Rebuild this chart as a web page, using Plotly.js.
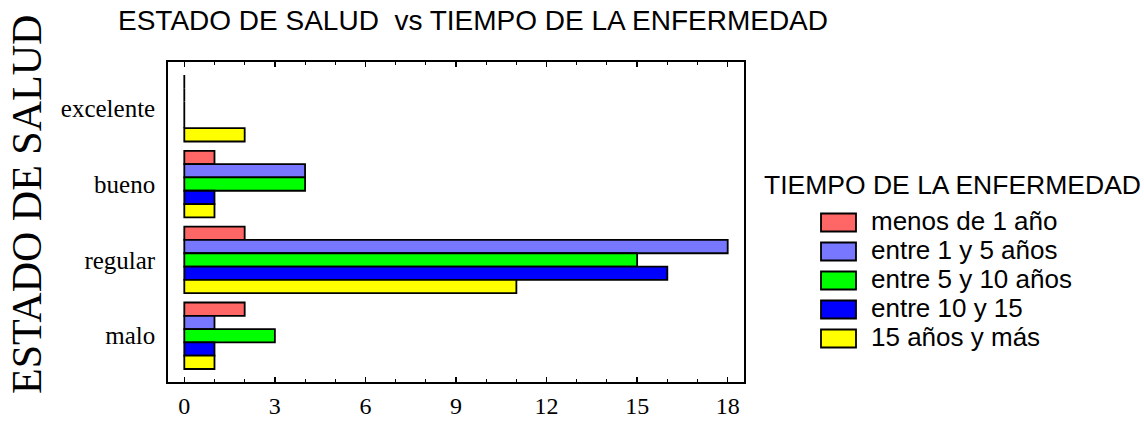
<!DOCTYPE html>
<html><head><meta charset="utf-8">
<script src="https://cdn.plot.ly/plotly-3.0.1.min.js"></script>
<style>html,body{margin:0;padding:0;background:#fff}</style>
</head><body>
<div id="chart" style="width:1144px;height:421px"></div>
<script>
const categories = ['excelente', 'bueno', 'regular', 'malo'];
const seriesNames = ['menos de 1 año', 'entre 1 y 5 años', 'entre 5 y 10 años', 'entre 10 y 15', '15 años y más'];
const menos1 = [0, 1, 2, 2];
const entre1y5 = [0, 4, 18, 1];
const entre5y10 = [0, 4, 15, 3];
const entre10y15 = [0, 1, 16, 1];
const mas15 = [2, 1, 11, 1];
const xTicks = [0, 3, 6, 9, 12, 15, 18];
const colors = ['#FF6666', '#7777FF', '#00FF00', '#0000FF', '#FFFF00'];
const seriesValues = [menos1, entre1y5, entre5y10, entre10y15, mas15];

const traces = seriesValues.map((vals, i) => ({
  type: 'bar',
  orientation: 'h',
  name: '<span style="font-size:26px">' + seriesNames[i] + '</span>',
  y: categories,
  x: vals,
  marker: { color: colors[i], line: { color: '#000', width: 1.8 } },
  hoverinfo: 'x+y'
}));

const layout = {
  width: 1144, height: 421,
  margin: { l: 168, r: 400, t: 62, b: 39 },
  paper_bgcolor: '#fff', plot_bgcolor: '#fff',
  barmode: 'group', bargap: 0.123, bargroupgap: 0,
  font: { family: 'Liberation Sans, Arial, sans-serif', color: '#000' },
  title: {
    text: 'ESTADO DE SALUD\u00A0 vs TIEMPO DE LA ENFERMEDAD',
    x: 118 / 1144, xref: 'container', xanchor: 'left',
    y: 1 - 20 / 421, yref: 'container', yanchor: 'middle',
    font: { family: 'Liberation Sans, Arial, sans-serif', size: 28, color: '#000' }
  },
  xaxis: {
    range: [-0.54, 18.54],
    tickmode: 'array', tickvals: xTicks, ticktext: xTicks.map(String),
    ticks: 'inside', ticklen: 5, tickwidth: 1.5, tickcolor: '#000',
    minor: { tickmode: 'linear', tick0: 0, dtick: 1, ticks: 'inside', ticklen: 3, tickwidth: 1, tickcolor: '#000' },
    showline: true, linecolor: '#000', linewidth: 1.8, mirror: 'ticks',
    showgrid: false, zeroline: false,
    tickfont: { family: 'Liberation Serif, Times New Roman, serif', size: 24, color: '#000' },
    ticklabelstandoff: 1
  },
  yaxis: {
    type: 'category', categoryorder: 'array', categoryarray: categories,
    range: [3.61, -0.61],
    showline: true, linecolor: '#000', linewidth: 1.8, mirror: true,
    ticks: '', showgrid: false, zeroline: false,
    tickfont: { family: 'Liberation Serif, Times New Roman, serif', size: 25, color: '#000' },
    ticklabelstandoff: 6
  },
  legend: {
    x: (806 - 168) / 576, xanchor: 'left',
    y: 1 - (203 - 62) / 320, yanchor: 'top',
    font: { family: 'Liberation Sans, Arial, sans-serif', size: 20, color: '#000' },
    itemwidth: 55, bgcolor: 'rgba(0,0,0,0)', traceorder: 'normal'
  },
  annotations: [{
    text: 'TIEMPO DE LA ENFERMEDAD', showarrow: false,
    xref: 'paper', x: (762 - 168) / 576, xanchor: 'left',
    yref: 'paper', y: 1 - (185 - 62) / 320, yanchor: 'middle',
    font: { family: 'Liberation Sans, Arial, sans-serif', size: 26.5, color: '#000' }
  }, {
    text: 'ESTADO DE SALUD', showarrow: false, textangle: -90,
    xref: 'paper', x: (27 - 168) / 576, xanchor: 'center',
    yref: 'paper', y: 1 - (205 - 62) / 320, yanchor: 'middle',
    font: { family: 'Liberation Serif, Times New Roman, serif', size: 42, color: '#000' }
  }]
};

Plotly.newPlot('chart', traces, layout, { displayModeBar: false, staticPlot: true }).then(() => {
  document.querySelectorAll('#chart .legendpoints path').forEach(p => {
    p.setAttribute('d', 'M17.5,9H-17.5V-9H17.5Z');
    p.style.strokeWidth = '1.8px';
    p.style.stroke = '#000';
  });
});
</script>
</body></html>
